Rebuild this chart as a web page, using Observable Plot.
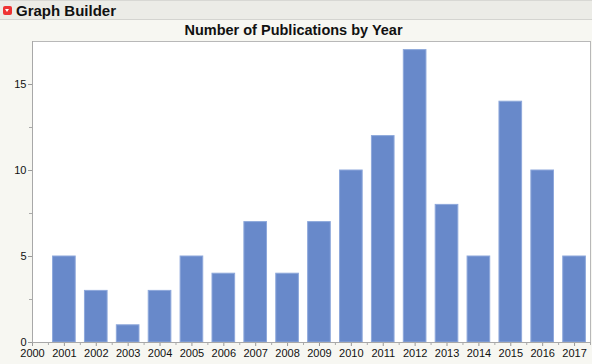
<!DOCTYPE html>
<html><head><meta charset="utf-8">
<script src="https://cdn.jsdelivr.net/npm/d3@7"></script>
<script src="https://cdn.jsdelivr.net/npm/@observablehq/plot@0.6"></script>
<style>
html,body{margin:0;padding:0;}
body{width:592px;height:364px;background:#f7f7f2;position:relative;overflow:hidden;font-family:"Liberation Sans",Arial,Helvetica,sans-serif;}
#hdr{position:absolute;left:0;top:0;width:592px;height:20px;background:#ecece7;border-top:1px solid #d8d8d4;border-bottom:1px solid #d4d4d0;box-sizing:border-box;}
#hdr .tri{position:absolute;left:3px;top:5px;width:9px;height:9px;background:#e33;border-radius:2px;}
#hdr .tri:after{content:"";position:absolute;left:2px;top:3px;border-left:2.5px solid transparent;border-right:2.5px solid transparent;border-top:3px solid #fff;}
#hdr .lbl{position:absolute;left:16px;top:1px;font-weight:bold;font-size:15px;color:#111;}
#title{position:absolute;left:0;width:587px;top:22px;text-align:center;font-weight:bold;font-size:14.5px;color:#111;}
#chart{position:absolute;left:0;top:21px;}
</style></head>
<body>
<div id="hdr"><div class="tri"></div><div class="lbl">Graph Builder</div></div>
<div id="title">Number of Publications by Year</div>
<div id="chart"></div>
<script>
const years = [2001,2002,2003,2004,2005,2006,2007,2008,2009,2010,2011,2012,2013,2014,2015,2016,2017];
const counts = [5,3,1,3,5,4,7,4,7,10,12,17,8,5,14,10,5];
const xTicks = [2000,2001,2002,2003,2004,2005,2006,2007,2008,2009,2010,2011,2012,2013,2014,2015,2016,2017];
const yTicks = [0,5,10,15];
const yMinor = [2.5,7.5,12.5];

const data = years.map((y,i)=>({year:y,count:counts[i]}));
const xMinor = xTicks.map(t=>t+0.5).filter(t=>t<=2017.5);
const half = 0.355;

const plot = Plot.plot({
  width:592, height:343,
  marginTop:20, marginBottom:22, marginLeft:32, marginRight:2,
  style:{background:"transparent", fontFamily:"'Liberation Sans',Arial,sans-serif", fontSize:"11px", color:"#111"},
  x:{type:"linear", domain:[2000,2017.5]},
  y:{domain:[0,17.5]},
  marks:[
    Plot.frame({fill:"white", stroke:"#b8b8b8"}),
    Plot.rectY(data,{x1:d=>d.year-half, x2:d=>d.year+half, y1:0, y2:"count", fill:"#6889ca", stroke:"#8ea8db", strokeWidth:1}),
    Plot.axisX({ticks:xTicks, tickFormat:d=>String(d), tickSize:4, tickPadding:3, stroke:"#999", label:null, fill:"#111"}),
    Plot.axisX({ticks:xMinor, tickFormat:null, text:null, tickSize:3, stroke:"#aaa", label:null}),
    Plot.axisY({ticks:yTicks, tickSize:4, tickPadding:2, stroke:"#999", label:null, fill:"#111"}),
    Plot.axisY({ticks:yMinor, text:null, tickSize:3, stroke:"#aaa", label:null}),
    Plot.ruleX([2000],{stroke:"#a8a8a8"}),
    Plot.ruleY([0],{stroke:"#a8a8a8"})
  ]
});
document.getElementById("chart").appendChild(plot);
</script>
</body></html>
